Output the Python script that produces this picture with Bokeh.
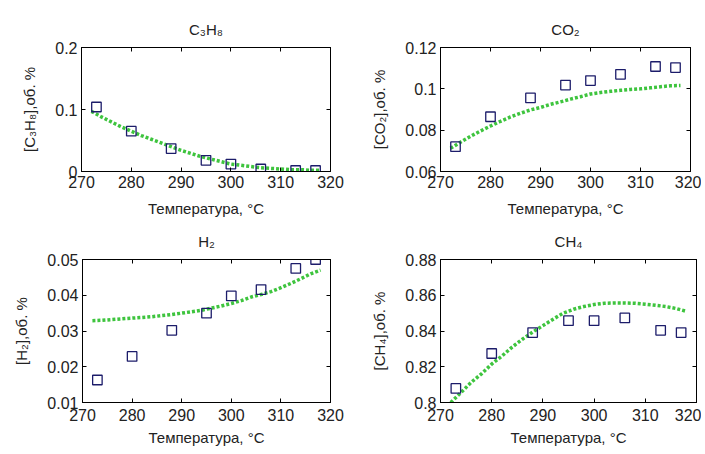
from bokeh.plotting import figure
from bokeh.layouts import column, row, Spacer
from bokeh.models import LinearAxis, Range1d, FixedTicker, CustomLabelingPolicy
from bokeh.embed import file_html
from bokeh.resources import INLINE

# ---- data ----
T_exp = [273, 280, 288, 295, 300, 306, 313, 317]
T_fit = [272, 274, 276, 278, 280, 282, 284, 286, 288, 290, 292, 294, 296, 298,
         300, 302, 304, 306, 308, 310, 312, 314, 316, 318]

c3h8_exp = [0.104, 0.065, 0.037, 0.018, 0.012, 0.004, 0.0016, 0.0016]
c3h8_fit = [0.097, 0.088, 0.080, 0.072, 0.065, 0.058, 0.052, 0.046, 0.040, 0.034,
            0.029, 0.024, 0.020, 0.016, 0.012, 0.010, 0.008, 0.006, 0.005, 0.004,
            0.003, 0.003, 0.002, 0.002]

co2_exp = [0.072, 0.0865, 0.0956, 0.1018, 0.104, 0.107, 0.1108, 0.1103]
co2_fit = [0.0712, 0.0742, 0.0770, 0.0796, 0.0820, 0.0843, 0.0864, 0.0882, 0.0898, 0.0910,
           0.0925, 0.0937, 0.0950, 0.0962, 0.0975, 0.0982, 0.0988, 0.0993, 0.0997, 0.1000,
           0.1005, 0.1010, 0.1015, 0.1016]

h2_exp = [0.0163, 0.0229, 0.0302, 0.0350, 0.0398, 0.0416, 0.0475, 0.0500]
h2_fit = [0.0329, 0.0330, 0.0332, 0.0334, 0.0336, 0.0338, 0.0340, 0.0343, 0.0346, 0.0350,
          0.0354, 0.0358, 0.0364, 0.0370, 0.0377, 0.0385, 0.0395, 0.0402, 0.0410, 0.0421,
          0.0433, 0.0446, 0.0460, 0.0470]

ch4_exp = [0.8079, 0.8274, 0.8391, 0.8458, 0.8458, 0.8473, 0.8404, 0.8391]
ch4_fit = [0.8000, 0.8056, 0.8113, 0.8160, 0.8215, 0.8260, 0.8310, 0.8354, 0.8394, 0.8430,
           0.8466, 0.8500, 0.8522, 0.8537, 0.8548, 0.8555, 0.8557, 0.8557, 0.8555, 0.8550,
           0.8544, 0.8537, 0.8526, 0.8510]

x_ticks = [270, 280, 290, 300, 310, 320]

panels = [
    dict(title="C₃H₈", ylabel="[C₃H₈],об. %", exp=c3h8_exp, fit=c3h8_fit,
         yr=(0, 0.2), yt=[0, 0.1, 0.2], yl={0: "0", 0.1: "0.1", 0.2: "0.2"}),
    dict(title="CO₂", ylabel="[CO₂],об. %", exp=co2_exp, fit=co2_fit,
         yr=(0.06, 0.12), yt=[0.06, 0.08, 0.1, 0.12],
         yl={0.06: "0.06", 0.08: "0.08", 0.1: "0.1", 0.12: "0.12"}),
    dict(title="H₂", ylabel="[H₂],об. %", exp=h2_exp, fit=h2_fit,
         yr=(0.01, 0.05), yt=[0.01, 0.02, 0.03, 0.04, 0.05],
         yl={0.01: "0.01", 0.02: "0.02", 0.03: "0.03", 0.04: "0.04", 0.05: "0.05"}),
    dict(title="CH₄", ylabel="[CH₄],об. %", exp=ch4_exp, fit=ch4_fit,
         yr=(0.8, 0.88), yt=[0.8, 0.82, 0.84, 0.86, 0.88],
         yl={0.8: "0.8", 0.82: "0.82", 0.84: "0.84", 0.86: "0.86", 0.88: "0.88"}),
]

# (width, height, left, right, bottom, tick_standoff, label_standoff)
geoms = [
    (352, 212, 81, 22, 57, 4, 9),
    (349, 212, 88, 11, 54, 4, 9),
    (352, 224, 82, 22, 50, 6, 5),
    (349, 224, 88, 5, 48, 6, 5),
]

FONT = "Liberation Sans"
figs = []
for pd_, (w, h, l, r, b, ts, ls) in zip(panels, geoms):
    p = figure(width=w, height=h, output_backend="svg", toolbar_location=None,
               x_range=Range1d(270, 320), y_range=Range1d(*pd_["yr"]),
               min_border_left=l, min_border_right=r, min_border_top=0,
               min_border_bottom=b, x_axis_type=None, y_axis_type=None)
    p.outline_line_color = "black"
    p.outline_line_width = 1
    p.background_fill_color = "white"
    p.border_fill_color = "white"
    p.xgrid.visible = False
    p.ygrid.visible = False

    xa = LinearAxis(ticker=FixedTicker(ticks=x_ticks), axis_label="Температура, °C")
    ya = LinearAxis(ticker=FixedTicker(ticks=pd_["yt"]), axis_label=pd_["ylabel"],
                    major_label_overrides=pd_["yl"])
    xt = LinearAxis(ticker=FixedTicker(ticks=x_ticks))
    yr_ = LinearAxis(ticker=FixedTicker(ticks=pd_["yt"]))
    for ax in (xa, ya, xt, yr_):
        ax.major_tick_in = 4
        ax.major_tick_out = 0
        ax.minor_tick_line_color = None
        ax.axis_line_color = "black"
        ax.major_tick_line_color = "black"
        ax.major_label_text_font = FONT
        ax.major_label_text_font_size = "16px"
        ax.major_label_text_color = "#222222"
        ax.axis_label_text_font = FONT
        ax.axis_label_text_font_size = "15px"
        ax.axis_label_text_font_style = "normal"
        ax.axis_label_text_color = "#222222"
    for ax in (xt, yr_):
        ax.major_label_policy = CustomLabelingPolicy(code="return new Set()")
        ax.major_label_text_font_size = "1px"
        ax.major_label_standoff = 0
    xt.major_label_standoff = 4
    xa.major_label_standoff = ts
    ya.major_label_standoff = 4
    xa.axis_label_standoff = ls
    ya.axis_label_standoff = 14
    p.add_layout(xa, "below")
    p.add_layout(ya, "left")
    p.add_layout(xt, "above")
    p.add_layout(yr_, "right")

    p.title.text = pd_["title"]
    p.title.align = "center"
    p.title.text_font = FONT
    p.title.text_font_size = "15px"
    p.title.text_font_style = "normal"
    p.title.text_color = "#222222"
    p.title.standoff = 4

    p.line(T_fit, pd_["fit"], line_color="#3ec43e", line_width=3.5, line_dash="3 2")
    p.scatter(T_exp, pd_["exp"], marker="square", size=9.5, fill_color=None,
              line_color="#1c1c6a", line_width=1.3)
    figs.append(p)

layout = column(Spacer(width=10, height=16),
                row(figs[0], figs[1], spacing=0),
                row(figs[2], figs[3], spacing=0), spacing=0)
open("out.html", "w").write(file_html(layout, INLINE))
